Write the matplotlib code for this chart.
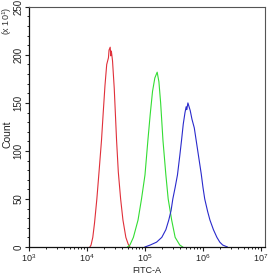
import matplotlib.pyplot as plt
import numpy as np
from matplotlib.ticker import LogLocator, MultipleLocator, FixedLocator

plt.rcParams['font.family'] = ['Liberation Sans', 'DejaVu Sans']
plt.rcParams['mathtext.fontset'] = 'custom'
plt.rcParams['mathtext.rm'] = 'Liberation Sans'
plt.rcParams['mathtext.it'] = 'Liberation Sans'

# log10(FITC-A) positions and counts (x10^1)
red_log = [4.05, 4.07, 4.10, 4.13, 4.17, 4.21, 4.25, 4.28, 4.31, 4.34, 4.37, 4.38,
           4.40, 4.41, 4.42, 4.44, 4.47, 4.51, 4.54, 4.58, 4.62, 4.67, 4.71, 4.74]
red_cnt = [0, 2, 10, 25, 50, 80, 111, 140, 168, 190, 197, 205,
           208, 199, 204, 194, 165, 111, 78, 50, 28, 10, 3, 0]

green_log = [4.70, 4.74, 4.80, 4.88, 4.94, 5.00, 5.05, 5.09, 5.13, 5.17, 5.21,
             5.24, 5.27, 5.31, 5.36, 5.40, 5.46, 5.52, 5.60, 5.65]
green_cnt = [0, 2, 10, 28, 50, 75, 111, 138, 162, 176, 182,
             172, 150, 111, 75, 50, 28, 10, 2, 0]

blue_log = [5.00, 5.09, 5.20, 5.29, 5.36, 5.41, 5.45, 5.48, 5.52, 5.56, 5.60, 5.63,
            5.66, 5.69, 5.71, 5.72, 5.74, 5.76, 5.78, 5.81, 5.85, 5.89, 5.93, 5.97,
            6.00, 6.03, 6.08, 6.12, 6.18, 6.24, 6.29, 6.34, 6.42]
blue_cnt = [0, 2, 5, 10, 18, 28, 38, 50, 62, 75, 95, 111,
            128, 140, 146, 143, 150, 146, 142, 133, 124, 108, 92, 76,
            62, 50, 37, 28, 18, 10, 5, 2, 0]

fig = plt.figure(figsize=(2.71, 2.75), dpi=100)
ax = fig.add_axes([0.107, 0.102, 0.871, 0.873])

ax.plot(10 ** np.array(red_log), red_cnt, color='#e0303a', lw=0.8)
ax.plot(10 ** np.array(green_log), green_cnt, color='#33dd33', lw=0.8)
ax.plot(10 ** np.array(blue_log), blue_cnt, color='#2a2acc', lw=0.8)

ax.set_xscale('log')
ax.set_xlim(1e3, 10 ** 7.07)
ax.set_ylim(0, 250)

ax.xaxis.set_major_locator(FixedLocator([1e3, 1e4, 1e5, 1e6, 1e7]))
ax.xaxis.set_minor_locator(LogLocator(base=10, subs=np.arange(2, 10)))
ax.set_xticklabels(['$10^{3}$', '$10^{4}$', '$10^{5}$', '$10^{6}$', '$10^{7}$'])
ax.yaxis.set_major_locator(MultipleLocator(50))
ax.yaxis.set_minor_locator(MultipleLocator(10))

ax.tick_params(which='major', length=3, width=0.8, colors='#222222', pad=1)
ax.tick_params(which='minor', length=1.6, width=0.7, colors='#222222')
ax.tick_params(axis='x', labelsize=6.5)
ax.tick_params(axis='y', labelsize=7, labelrotation=90)
for lab in ax.get_yticklabels():
    lab.set_va('center')

for s in ['top', 'right']:
    ax.spines[s].set_color('#555555')
    ax.spines[s].set_linewidth(0.8)
for s in ['left', 'bottom']:
    ax.spines[s].set_color('#111111')
    ax.spines[s].set_linewidth(0.9)

ax.set_xlabel('FITC-A', fontsize=6.5, color='#222222', va='top')
ax.xaxis.set_label_coords(0.5, -0.078)
ax.set_ylabel('Count', fontsize=7.5, color='#222222')
ax.yaxis.set_label_coords(-0.07, 0.47)
fig.text(0.028, 0.975, r'(x 10$^{1}$)', rotation=90, fontsize=6.5, color='#333333',
         ha='center', va='top')

fig.savefig('out.png', dpi=100)
